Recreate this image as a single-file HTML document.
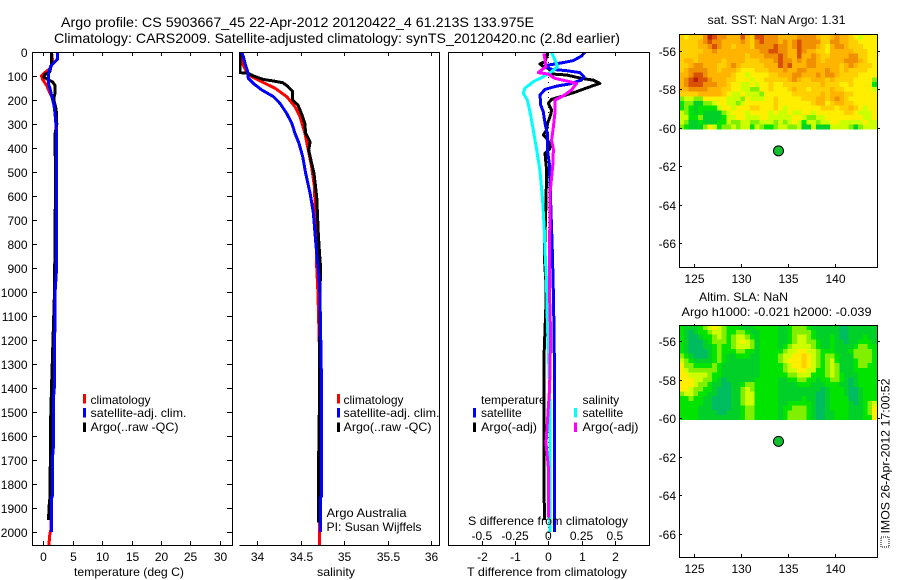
<!DOCTYPE html>
<html lang="en">
<head>
<meta charset="utf-8">
<title>Argo profile chart</title>
<style>
html,body{margin:0;padding:0;background:#fff;}
svg{display:block;}
text{font-family:"Liberation Sans",sans-serif;font-size:12px;fill:#000;}
.ax{fill:none;stroke:#000;stroke-width:1;shape-rendering:crispEdges;}
.tk{stroke:#000;stroke-width:1;shape-rendering:crispEdges;}
.cv{fill:none;stroke-width:3;stroke-linejoin:round;shape-rendering:crispEdges;}
</style>
</head>
<body>
<svg id="chart" xmlns="http://www.w3.org/2000/svg" width="900" height="580" viewBox="0 0 900 580">
<defs>
<clipPath id="clipT"><rect x="32" y="52" width="200" height="493"/></clipPath>
<clipPath id="clipS"><rect x="239" y="52" width="200" height="493"/></clipPath>
<clipPath id="clipD"><rect x="448" y="52" width="202" height="493"/></clipPath>
</defs>
<rect x="0" y="0" width="900" height="580" fill="#fff"/>

<text x="61" y="27" textLength="473" lengthAdjust="spacingAndGlyphs" style="font-size:14px">Argo profile: CS 5903667_45 22-Apr-2012 20120422_4 61.213S 133.975E</text>
<text x="54" y="43" textLength="566" lengthAdjust="spacingAndGlyphs" style="font-size:14px">Climatology: CARS2009. Satellite-adjusted climatology: synTS_20120420.nc (2.8d earlier)</text>

<g id="heatmaps"></g>
<g id="curves"></g>
<g id="axes"></g>

<path class="ax" d="M32.5 52.5H232.5V545.5H32.5Z"/>
<path class="ax" d="M239.5 52.5H439.5V545.5H239.5"/>
<path class="ax" d="M448.5 52.5H649.5V545.5H448.5Z"/>
<path class="ax" d="M679.5 34.5H877.5V267.5H679.5Z"/>
<path class="ax" d="M679.5 325.5H877.5V557.5H679.5Z"/>

<text x="74" y="576" textLength="110" lengthAdjust="spacingAndGlyphs">temperature (deg C)</text>
<text x="317" y="576" textLength="38" lengthAdjust="spacingAndGlyphs">salinity</text>
<text x="467" y="576" textLength="160" lengthAdjust="spacingAndGlyphs">T difference from climatology</text>
<text x="468" y="525" textLength="160" lengthAdjust="spacingAndGlyphs">S difference from climatology</text>

<g>
<rect x="83" y="394" width="3" height="9.5" fill="#f00"/>
<rect x="83" y="408" width="3" height="9.5" fill="#00f"/>
<rect x="83" y="422.5" width="3" height="9.5" fill="#000"/>
<text x="90.5" y="404">climatology</text>
<text x="90.5" y="417" textLength="96" lengthAdjust="spacingAndGlyphs">satellite-adj. clim.</text>
<text x="90.5" y="431" textLength="88" lengthAdjust="spacingAndGlyphs">Argo(..raw -QC)</text>
</g>
<g>
<rect x="337" y="394" width="3" height="9.5" fill="#f00"/>
<rect x="337" y="408" width="3" height="9.5" fill="#00f"/>
<rect x="337" y="422.5" width="3" height="9.5" fill="#000"/>
<text x="343.5" y="404">climatology</text>
<text x="343.5" y="417" textLength="96" lengthAdjust="spacingAndGlyphs">satellite-adj. clim.</text>
<text x="343.5" y="431" textLength="88" lengthAdjust="spacingAndGlyphs">Argo(..raw -QC)</text>
</g>
<g>
<text x="481" y="404">temperature</text>
<text x="582.5" y="404">salinity</text>
<rect x="473" y="408" width="3" height="9.5" fill="#00f"/>
<rect x="473" y="422.5" width="3" height="9.5" fill="#000"/>
<rect x="574" y="408" width="3" height="9.5" fill="#0ff"/>
<rect x="574" y="422.5" width="3" height="9.5" fill="#f0f"/>
<text x="481" y="417">satellite</text>
<text x="481" y="431" textLength="56" lengthAdjust="spacingAndGlyphs">Argo(-adj)</text>
<text x="582.5" y="417">satellite</text>
<text x="582.5" y="431" textLength="56" lengthAdjust="spacingAndGlyphs">Argo(-adj)</text>
</g>
<text x="326.5" y="517" textLength="80" lengthAdjust="spacingAndGlyphs">Argo Australia</text>
<text x="326.5" y="531" textLength="95" lengthAdjust="spacingAndGlyphs">PI: Susan Wijffels</text>

<text x="707.5" y="24" textLength="138" lengthAdjust="spacingAndGlyphs">sat. SST: NaN Argo: 1.31</text>
<text x="699" y="301" textLength="89" lengthAdjust="spacingAndGlyphs">Altim. SLA: NaN</text>
<text x="681.5" y="316" textLength="190" lengthAdjust="spacingAndGlyphs">Argo h1000: -0.021 h2000: -0.039</text>

<g>
<rect x="881" y="537" width="8" height="10" fill="#fff" stroke="#000" stroke-width="1" stroke-dasharray="1 1" shape-rendering="crispEdges"/>
<text transform="translate(889.5 533.5) rotate(-90)" textLength="155" lengthAdjust="spacingAndGlyphs">IMOS 26-Apr-2012 17:00:52</text>
</g>
</svg>

<script>
/* ---------- axis tick arrays ---------- */
var depthTicks = [0,100,200,300,400,500,600,700,800,900,1000,1100,1200,1300,1400,1500,1600,1700,1800,1900,2000];
var tempTicks = [0,5,10,15,20,25,30];
var salTicks = [34,34.5,35,35.5,36];
var tDiffTicks = [-2,-1,0,1,2];
var sDiffTicks = [-0.5,-0.25,0,0.25,0.5];
var sDiffLabels = ["-0.5","-0.25","0","0.25","0.5"];
var lonTicks = [125,130,135,140];
var latTicks = [-56,-58,-60,-62,-64,-66];

/* ---------- temperature profiles ---------- */
var tempClimDepth = [0,40,70,85,100,115,140,170,200,250,300,340,1000,1400,1960,1990,2010,2054];
var tempClimValue = [1.4,1.6,1.1,0.3,-0.3,-0.1,0.57,1.1,1.7,2.0,2.27,2.27,1.95,1.6,1.3,1.3,1.1,0.95];
var tempSatDepth = [0,30,40,60,80,100,130,150,180,220,260,300,340,900,1000,1400,1450,1650,1700,1850,1860,2000];
var tempSatValue = [2.4,2.4,2.0,1.25,1.0,0.85,0.85,1.13,1.4,1.8,2.0,2.15,2.27,2.27,2.0,1.87,1.7,1.7,1.53,1.53,1.42,1.36];
var tempArgoDepth = [0,50,83,95,105,115,125,140,170,190,200,240,300,340,400,500,1000,1400,1540,1700,1740,1850,1900,1950];
var tempArgoValue = [1.4,1.4,1.1,0.2,0.1,0.8,1.6,2.0,2.0,1.8,1.8,2.2,2.3,2.0,2.0,2.1,1.9,1.4,1.25,1.25,1.15,1.15,0.95,0.9];

/* ---------- salinity profiles ---------- */
var salClimDepth = [0,47,82,103,124,151,186,228,269,339,408,478,561,756,894,1000,1400,2054];
var salClimValue = [33.812,33.831,33.88,33.94,34.054,34.207,34.341,34.437,34.494,34.552,34.59,34.628,34.66,34.678,34.686,34.70,34.73,34.716];
var salSatDepth = [0,19,47,82,110,131,158,186,214,256,297,339,381,436,506,589,672,756,839,936,1019,1400,1850,1860,2000];
var salSatValue = [33.824,33.843,33.862,33.893,33.90,33.958,34.054,34.188,34.264,34.341,34.40,34.437,34.483,34.525,34.56,34.61,34.648,34.667,34.686,34.713,34.724,34.743,34.743,34.728,34.728];
var salArgoDepth = [0,86,89,100,114,121,128,142,165,200,221,256,297,339,374,408,450,506,603,756,825,894,1019,1500,1800,1960];
var salArgoValue = [33.805,33.805,33.90,33.96,34.07,34.19,34.295,34.35,34.41,34.41,34.47,34.51,34.55,34.56,34.61,34.594,34.62,34.655,34.686,34.705,34.716,34.73,34.724,34.716,34.705,34.705];

/* ---------- difference profiles ---------- */
var dTempSatDepth = [0,17,36,44,50,54,64,72,78,86,103,117,133,142,156,179,221,249,297,339,406,464,617,825,992,1158,1381,1492,2000];
var dTempSatValue = [1.10,1.00,0.75,0.45,0.20,0,-0.03,0.10,0.55,0.95,1.07,1.0,0.65,0.25,-0.10,-0.25,-0.23,-0.15,-0.10,-0.03,-0.03,0.03,0.07,0.12,0.15,0.17,0.19,0.19,0.18];
var dTempArgoDepth = [3,19.5,40,50,61,68,92,96,110,117,131,145,165,183,197,214,242,262,297,325,346,356,388,406,422,492,630,853,964,1047,1158,1269,1478,1950];
var dTempArgoValue = [-0.02,-0.05,-0.10,-0.25,-0.15,0,0.15,0.55,1.0,1.35,1.55,1.25,0.85,0.45,0.10,0,0.10,0.07,-0.02,-0.05,-0.15,-0.07,0.07,0.03,-0.10,-0.05,-0.07,-0.12,-0.07,-0.07,-0.10,-0.13,-0.13,-0.12];
var dSalSatDepth = [3,33,61,82,103,124,151,172,200,262,325,406,492,617,742,825,964,1103,1242,1381,1492,2000];
var dSalSatValue = [0.025,0.05,0.07,0.025,-0.038,-0.113,-0.175,-0.188,-0.158,-0.133,-0.113,-0.088,-0.063,-0.043,-0.03,-0.025,-0.013,-0.008,0,0.008,0.013,0.013];
var dSalArgoDepth = [6,33,61,86,92,110,119,131,158,183,200,256,311,367,406,478,589,686,825,964,1103,1158,1400,1630,1728,1940];
var dSalArgoValue = [-0.033,-0.025,-0.018,-0.075,0,0.05,0.125,0.213,0.175,0.113,0.05,0.05,0.038,0.025,0.038,0.033,0.013,0.013,0.008,0.008,0.013,0.018,0.01,-0.017,0,0];

/* ---------- map data: colour-scale levels 0..10 ---------- */
var sstGrid = [
[6,5,6,6,6,8,10,9,8,8,7,7,7,9,7,6,9,9,8,8,8, 7,7,7,7,8,8,8,8,7,6,6,7,8,7,7,6,5,4,5,5,5],
[6,6,6,6,7,8,9,8,8,7,7,7,7,8,7,6,8,9,8,8,8, 7,8,7,8,9,8,8,8,8,6,6,8,8,7,7,6,6,5,5,5,5],
[6,6,6,6,7,7,8,9,8,7,7,6,7,7,7,6,8,8,8,8,9, 8,8,7,8,9,8,8,8,7,6,5,7,8,8,7,6,6,6,5,5,5],
[6,6,6,6,6,7,7,8,7,7,7,7,7,7,7,7,7,8,8,9,9, 8,8,7,7,9,8,7,7,6,6,5,7,7,7,7,7,6,6,6,5,5],
[6,6,6,6,7,7,7,7,7,7,7,7,7,7,6,7,7,7,8,8,8, 9,8,7,7,9,7,7,8,7,6,6,7,7,7,7,8,8,6,6,5,5],
[6,7,7,6,7,7,7,7,7,6,7,7,7,7,6,6,6,7,7,7,8, 9,8,8,7,8,7,8,8,7,6,7,7,7,7,8,8,8,7,6,5,5],
[6,6,7,8,8,7,7,7,6,6,7,8,7,6,6,6,6,6,7,7,7, 9,8,9,7,7,7,8,8,7,7,7,7,7,6,7,8,7,6,6,6,5],
[6,7,8,8,8,8,7,7,6,7,7,7,6,5,5,5,6,6,6,7,7, 7,8,7,7,8,8,7,7,7,7,8,7,7,6,7,6,6,6,6,5,5],
[7,7,8,9,9,8,7,7,7,7,7,6,5,5,4,5,5,5,5,6,6, 7,7,7,8,8,7,7,7,8,7,8,8,7,6,6,6,6,5,5,5,5],
[7,8,9,10,9,9,8,7,7,7,6,6,5,5,5,4,5,5,6,6,6, 6,6,7,8,7,6,6,7,7,7,6,7,6,6,6,6,5,5,5,5,3],
[7,8,9,9,9,8,8,8,7,7,6,5,5,4,4,5,4,5,5,6,5, 5,6,6,6,6,6,6,6,6,7,6,6,6,5,5,6,5,5,5,5,2],
[7,7,8,8,8,8,7,7,7,6,6,5,5,4,4,3,3,5,5,6,5, 5,5,6,7,6,6,5,6,6,6,6,7,6,6,5,5,5,5,5,5,4],
[6,6,6,6,7,7,7,7,7,6,5,4,4,5,4,4,4,3,5,5,5, 5,5,5,6,6,6,6,6,6,7,6,7,7,7,6,6,5,5,5,5,5],
[3,4,4,3,3,5,5,5,5,5,4,4,4,3,5,4,4,4,5,5,6, 5,5,5,5,5,6,6,6,7,7,6,7,8,7,6,5,5,5,5,5,5],
[2,3,3,1,1,3,3,4,5,5,4,4,3,4,5,5,5,5,5,5,6, 5,5,5,5,5,5,5,6,7,7,5,6,7,7,6,6,5,5,5,5,5],
[2,3,2,1,2,2,2,2,4,5,5,4,5,5,5,6,6,5,5,5,6, 5,4,5,5,5,5,5,5,5,6,6,6,5,6,6,7,6,5,4,5,5],
[4,3,2,1,2,1,1,1,1,3,4,5,5,5,4,5,5,5,5,4,5, 4,4,5,4,4,5,5,4,5,5,5,5,5,5,6,6,5,4,4,4,5],
[4,4,2,2,3,1,1,1,1,2,4,4,5,5,4,4,4,5,5,4,4, 4,4,4,5,5,4,3,3,4,4,5,5,5,5,5,5,5,5,4,4,5],
[4,3,1,1,2,1,1,1,2,2,4,3,3,4,4,3,3,4,4,4,3, 4,3,4,5,4,2,4,4,3,4,4,5,5,4,4,4,4,4,5,4,4],
[3,2,1,1,1,3,5,4,2,3,3,4,3,4,4,2,4,3,2,2,3, 4,4,3,3,4,1,1,4,1,1,1,4,4,4,4,3,1,3,4,4,4]
];
var slaGrid = [
[2,1,1,1,2,3,4,5,4,3,2,2,2,1,1,1,2,2,2,2, 2,1,1,2,3,3,3,2,1,1, 1,1,1,1,0,0,1,1,1,1, 1,1],
[2,1,0,1,2,2,3,4,4,3,2,2,3,3,2,1,1,2,2,2, 2,1,1,2,3,3,3,3,2,1, 1,1,1,1,0,0,1,1,1,1, 1,1],
[2,1,0,0,1,2,2,3,4,3,2,3,4,4,3,2,1,2,2,2, 2,1,1,2,3,4,4,3,2,1, 1,1,2,1,0,0,1,1,1,2, 1,1],
[2,1,0,0,0,1,2,3,3,3,2,3,4,5,4,3,1,2,2,2, 2,1,1,2,3,4,4,3,3,2, 1,1,2,1,1,0,1,1,2,2, 2,1],
[2,1,0,0,0,1,1,2,3,2,2,3,4,4,4,3,1,2,2,2, 2,1,2,3,4,4,4,4,3,2, 1,1,2,1,1,1,1,2,3,3, 2,2],
[2,1,0,0,0,0,1,2,3,2,2,2,3,3,2,2,1,2,2,2, 2,2,3,4,4,5,5,4,4,3, 2,2,2,1,1,1,2,3,3,3, 3,2],
[3,2,1,0,0,0,1,2,3,2,1,1,2,2,2,1,1,2,2,2, 2,3,4,4,5,5,6,5,4,3, 2,3,3,2,1,1,1,3,3,3, 3,2],
[4,3,2,1,1,1,1,2,3,2,1,1,1,1,1,1,1,2,2,2, 2,3,4,5,5,5,6,5,4,3, 2,3,4,2,1,1,1,2,3,3, 3,2],
[5,3,3,2,2,2,2,3,2,1,1,1,1,1,1,1,1,2,2,2, 2,2,3,4,5,5,6,5,4,3, 2,3,4,3,1,1,1,2,3,3, 2,2],
[5,4,3,3,3,3,3,3,2,1,1,1,1,1,1,1,1,2,2,2, 2,2,3,4,4,5,5,4,4,2, 2,3,4,3,1,1,1,2,2,2, 2,2],
[5,5,4,4,4,4,3,2,2,1,1,1,1,1,1,1,1,2,2,2, 2,2,2,3,3,4,4,4,2,2, 2,3,4,3,2,1,1,1,2,2, 2,2],
[5,5,5,4,4,3,3,2,1,0,1,1,1,1,1,1,2,2,2,2, 2,1,1,2,2,3,3,2,2,1, 2,2,3,3,2,1,0,1,2,2, 2,2],
[5,5,5,4,3,3,2,1,1,0,0,1,1,2,3,3,2,2,2,2, 2,1,1,1,1,2,2,2,1,1, 1,2,2,2,1,1,0,1,2,2, 2,2],
[5,5,4,3,3,2,2,1,0,0,0,1,1,3,4,3,2,2,2,2, 2,1,1,1,1,1,1,1,1,1, 0,1,2,2,2,1,0,0,1,2, 2,2],
[3,4,4,3,2,2,1,1,0,0,0,1,1,3,4,4,2,2,2,2, 2,1,1,1,1,1,1,1,1,0, 0,1,2,2,2,1,0,0,1,2, 2,2],
[2,2,3,2,2,1,1,0,0,0,0,1,1,3,4,4,2,2,2,2, 2,1,1,1,1,1,2,1,1,0, 0,1,2,2,2,2,0,0,1,2, 2,2],
[2,2,2,2,2,1,1,0,0,0,0,1,1,3,4,4,2,2,2,2, 2,1,1,2,2,2,2,2,1,0, 0,1,2,2,2,2,1,0,1,2, 3,4],
[2,2,2,2,1,1,1,0,0,0,0,1,1,2,3,3,2,2,2,2, 2,1,2,2,3,3,3,2,1,0, 0,1,2,2,2,2,1,1,1,2, 3,5],
[2,2,2,2,1,1,1,1,0,0,1,1,1,2,3,3,2,2,2,2, 2,1,2,3,3,3,3,2,1,0, 0,1,1,2,2,2,1,1,1,2, 3,5],
[2,2,2,2,1,1,1,1,1,1,1,1,1,2,3,3,2,2,2,2, 2,1,2,3,3,3,3,2,1,0, 0,1,1,2,2,2,1,1,1,2, 2,5]
];
var mapLonWest = 123.4;
var mapLonEast = 144.47;
var mapLatNorth = -55.18;
var mapLatSouth = -60.1;
var profileLon = 133.975;
var profileLat = -61.213;

/* ---------- axis functions ---------- */
function yDepth(d){ return 52 + 0.24 * d; }
function xTemp(t){ return 43.3 + 5.88 * t; }
function xSal(s){ return 257 + 87 * (s - 34); }
function xDT(v){ return 548.3 + 33.25 * v; }
function xDS(v){ return 548.3 + 133 * v; }
function xLon(lon){ return 694.3 + 9.38 * (lon - 125); }
function yLatSst(lat){ return 50.5 + 19.25 * (-56 - lat); }
function yLatSla(lat){ return 341 + 19.25 * (-56 - lat); }
function level(v){
  var ramp = ['#00bc60','#00d028','#00e400','#80f000','#ccff00','#ffee00','#ffd000','#ffb400','#f09000','#d85000','#b82000'];
  return ramp[Math.max(0, Math.min(10, Math.round(v)))];
}

var NS = 'http://www.w3.org/2000/svg';
function make(parent, tag, attrs){
  var n = document.createElementNS(NS, tag);
  for (var k in attrs) n.setAttribute(k, attrs[k]);
  parent.appendChild(n);
  return n;
}
var curves = document.getElementById('curves');
var axes = document.getElementById('axes');
var heat = document.getElementById('heatmaps');

function drawCurve(depths, values, xf, color, clip, name){
  var pts = depths.map(function(d, i){ return xf(values[i]).toFixed(1) + ',' + yDepth(d).toFixed(1); }).join(' ');
  var el = make(curves, 'polyline', {'class':'cv', points:pts, stroke:color, 'clip-path':'url(#' + clip + ')'});
  
  
}

function drawHeat(grid, yLat, name){
  var rows = grid.length;
  grid.forEach(function(row, r){
    var cols = row.length;
    row.forEach(function(v, c){
      var lonA = mapLonWest + (mapLonEast - mapLonWest) * c / cols;
      var lonB = mapLonWest + (mapLonEast - mapLonWest) * (c + 1) / cols;
      var latA = mapLatNorth + (mapLatSouth - mapLatNorth) * r / rows;
      var latB = mapLatNorth + (mapLatSouth - mapLatNorth) * (r + 1) / rows;
      var el = make(heat, 'rect', {x:xLon(lonA), y:yLat(latA), width:xLon(lonB) - xLon(lonA), height:yLat(latB) - yLat(latA), fill:level(v), 'shape-rendering':'crispEdges'});
      
      
    });
  });
}

function tick(x1, y1, x2, y2, name){
  var el = make(axes, 'line', {'class':'tk', x1:x1, y1:y1, x2:x2, y2:y2});
  
  
}
function label(x, y, str, anchor, name){
  var el = make(axes, 'text', {x:x, y:y, 'text-anchor':anchor});
  el.textContent = str;
  
  
}

/* heat maps */
drawHeat(sstGrid, yLatSst, 'sst-cell');
drawHeat(slaGrid, yLatSla, 'sla-cell');

/* zero line of the difference panel */
var zeroLine = make(curves, 'line', {x1:xDT(0), x2:xDT(0), y1:yDepth(0), y2:yDepth(2054), stroke:'#000', 'stroke-width':1, 'stroke-dasharray':'1 4', 'shape-rendering':'crispEdges'});



/* curves */
drawCurve(tempClimDepth, tempClimValue, xTemp, '#f00', 'clipT', 'temperature-climatology-line');
drawCurve(tempArgoDepth, tempArgoValue, xTemp, '#000', 'clipT', 'temperature-argo-line');
drawCurve(tempSatDepth, tempSatValue, xTemp, '#00f', 'clipT', 'temperature-satellite-line');
drawCurve(salClimDepth, salClimValue, xSal, '#f00', 'clipS', 'salinity-climatology-line');
drawCurve(salArgoDepth, salArgoValue, xSal, '#000', 'clipS', 'salinity-argo-line');
drawCurve(salSatDepth, salSatValue, xSal, '#00f', 'clipS', 'salinity-satellite-line');
drawCurve(dTempArgoDepth, dTempArgoValue, xDT, '#000', 'clipD', 't-difference-argo-line');
drawCurve(dTempSatDepth, dTempSatValue, xDT, '#00f', 'clipD', 't-difference-satellite-line');
drawCurve(dSalSatDepth, dSalSatValue, xDS, '#0ff', 'clipD', 's-difference-satellite-line');
drawCurve(dSalArgoDepth, dSalArgoValue, xDS, '#f0f', 'clipD', 's-difference-argo-line');

/* depth axis */
depthTicks.forEach(function(d){
  var y = Math.round(yDepth(d)) + 0.5;
  tick(32, y, 37, y, 'depth-tick');
  tick(227, y, 232, y, 'depth-tick');
  label(27.5, y + 4.5, String(d), 'end', 'depth-tick-label');
});
/* temperature axis */
tempTicks.forEach(function(t){
  var x = Math.round(xTemp(t)) + 0.5;
  tick(x, 52, x, 56, 'temperature-tick');
  tick(x, 541, x, 545, 'temperature-tick');
  label(x, 561, String(t), 'middle', 'temperature-tick-label');
});
/* salinity axis */
salTicks.forEach(function(s){
  var x = Math.round(xSal(s)) + 0.5;
  tick(x, 52, x, 56, 'salinity-tick');
  tick(x, 541, x, 545, 'salinity-tick');
  label(x, 561, String(s), 'middle', 'salinity-tick-label');
});
/* difference axes */
tDiffTicks.forEach(function(v){
  var x = Math.round(xDT(v)) + 0.5;
  tick(x, 52, x, 56, 't-difference-tick');
  tick(x, 541, x, 545, 't-difference-tick');
  label(x, 561, String(v), 'middle', 't-difference-tick-label');
});
sDiffTicks.forEach(function(v, i){
  label(xDS(v), 540, sDiffLabels[i], 'middle', 's-difference-tick-label');
});
/* map axes */
[[yLatSst, 34, 267, 'sst'], [yLatSla, 325, 557, 'sla']].forEach(function(m){
  latTicks.forEach(function(lat){
    var y = Math.round(m[0](lat)) + 0.5;
    tick(679, y, 682, y, m[3] + '-latitude-tick');
    if (lat >= -60) tick(877, y, 880, y, m[3] + '-latitude-tick');
    label(676, y + 4.5, String(lat), 'end', m[3] + '-latitude-label');
  });
  lonTicks.forEach(function(lon){
    var x = Math.round(xLon(lon)) + 0.5;
    tick(x, m[1] - 1, x, m[1] + 1, m[3] + '-longitude-tick');
    tick(x, m[2] - 3, x, m[2], m[3] + '-longitude-tick');
    label(x, m[2] + 16, String(lon), 'middle', m[3] + '-longitude-label');
  });
  var dot = make(axes, 'circle', {cx:xLon(profileLon), cy:m[0](profileLat), r:5, fill:'#10c030', stroke:'#000', 'stroke-width':1});
  
  
});
</script>
</body>
</html>
